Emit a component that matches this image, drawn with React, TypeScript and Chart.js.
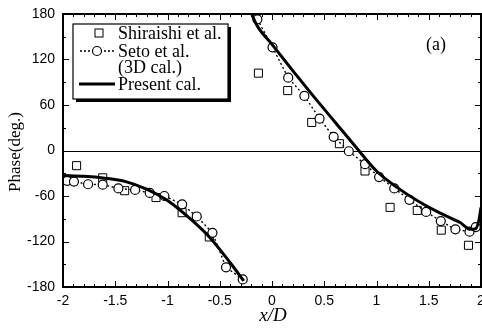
import { useEffect, useRef } from "react";
import { Chart, registerables } from "chart.js";

Chart.register(...registerables);

// Shiraishi et al. (measured)
const shiraishiLeftX = [-1.87, -1.62, -1.41, -1.11, -0.86, -0.6];
const shiraishiLeftY = [-20, -36, -53, -62, -82, -114];
const shiraishiRightX = [-0.13, 0.15, 0.38, 0.645, 0.89, 1.13, 1.39, 1.62, 1.88];
const shiraishiRightY = [102, 79, 37, 9, -27, -75, -79, -105, -125];

// Seto et al. (3D cal.)
const setoLeftX = [-1.96, -1.895, -1.76, -1.62, -1.47, -1.31, -1.17, -1.03, -0.86, -0.72, -0.57, -0.44, -0.28];
const setoLeftY = [-40, -41, -44.5, -45, -50, -52, -56, -60, -71, -87, -108.5, -154, -170];
const setoRightX = [-0.14, 0.005, 0.155, 0.31, 0.455, 0.59, 0.735, 0.89, 1.025, 1.17, 1.315, 1.475, 1.615, 1.755, 1.89, 1.95];
const setoRightY = [173, 136, 96, 72, 42, 18, -1, -18, -35, -50, -65, -81, -93, -104, -107, -101];

// Present calculation
const presentLeftX = [-2, -1.8, -1.6, -1.4, -1.2, -1.0, -0.8, -0.6, -0.4, -0.27];
const presentLeftY = [-33, -34, -36.5, -41, -51, -66, -88, -114, -148, -172];
const presentRightX = [-0.2, -0.185, -0.14, 0, 0.2, 0.4, 0.6, 0.8, 1.0, 1.2, 1.4, 1.6, 1.8, 1.9, 1.95, 1.98, 2.0];
const presentRightY = [183, 177, 164, 140, 105, 71, 38, 5, -27, -49, -67, -82, -95, -104, -103, -92, -75];

const xMin = -2;
const xMax = 2;
const yMin = -180;
const yMax = 180;
const xMajorStep = 0.5;
const xMinorStep = 0.1;
const yMajorStep = 60;
const yMinorStep = 30;

const legendLabels = ["Shiraishi et al.", "Seto et al.", "(3D cal.)", "Present cal."];
const panelLabel = "(a)";
const xTitle = "x/D";
const yTitle = "Phase(deg.)";

const toPoints = (xs: number[], ys: number[]) => xs.map((x, i) => ({ x, y: ys[i] }));

const SERIF = "'Liberation Serif', 'Times New Roman', serif";
const SANS = "'Liberation Sans', Arial, sans-serif";

const decorPlugin = {
  id: "decor",
  beforeDraw(chart: any) {
    const { ctx, width, height } = chart;
    ctx.save();
    ctx.fillStyle = "#fff";
    ctx.fillRect(0, 0, width, height);
    ctx.restore();
  },
  beforeDatasetsDraw(chart: any) {
    const { ctx, chartArea } = chart;
    const y0 = chart.scales.y.getPixelForValue(0);
    ctx.save();
    ctx.strokeStyle = "#000";
    ctx.lineWidth = 1;
    ctx.beginPath();
    ctx.moveTo(chartArea.left, Math.round(y0) + 0.5);
    ctx.lineTo(chartArea.right, Math.round(y0) + 0.5);
    ctx.stroke();
    ctx.restore();
  },
  afterDatasetsDraw(chart: any) {
    const { ctx, chartArea } = chart;
    const { left, right, top, bottom } = chartArea;
    const xs = chart.scales.x;
    const ys = chart.scales.y;
    ctx.save();
    ctx.strokeStyle = "#000";
    ctx.fillStyle = "#000";

    // inward ticks on all four sides
    ctx.lineWidth = 1;
    ctx.beginPath();
    const nx = Math.round((xMax - xMin) / xMinorStep);
    for (let i = 0; i <= nx; i++) {
      const v = xMin + i * xMinorStep;
      const major = Math.abs(v / xMajorStep - Math.round(v / xMajorStep)) < 1e-6;
      const len = major ? 6 : 3;
      const px = Math.round(xs.getPixelForValue(v)) + 0.5;
      ctx.moveTo(px, bottom);
      ctx.lineTo(px, bottom - len);
      ctx.moveTo(px, top);
      ctx.lineTo(px, top + len);
    }
    const ny = Math.round((yMax - yMin) / yMinorStep);
    for (let i = 0; i <= ny; i++) {
      const v = yMin + i * yMinorStep;
      const major = v % yMajorStep === 0;
      const len = major ? 6 : 3;
      const py = Math.round(ys.getPixelForValue(v)) + 0.5;
      ctx.moveTo(left, py);
      ctx.lineTo(left + len, py);
      ctx.moveTo(right, py);
      ctx.lineTo(right - len, py);
    }
    ctx.stroke();

    // frame
    ctx.lineWidth = 2;
    ctx.strokeRect(left, top, right - left, bottom - top);

    // legend box with drop shadow
    const bx = 73, by = 24, bw = 155, bh = 75;
    ctx.fillRect(bx + 3, by + 3, bw, bh);
    ctx.fillStyle = "#fff";
    ctx.fillRect(bx, by, bw, bh);
    ctx.lineWidth = 1.2;
    ctx.strokeRect(bx, by, bw, bh);

    // legend samples
    ctx.lineWidth = 1;
    ctx.strokeRect(95, 29, 8, 8);

    ctx.setLineDash([2, 2]);
    ctx.lineWidth = 1.4;
    ctx.beginPath();
    ctx.moveTo(80, 51);
    ctx.lineTo(115, 51);
    ctx.stroke();
    ctx.setLineDash([]);
    ctx.beginPath();
    ctx.arc(97, 51, 4.5, 0, Math.PI * 2);
    ctx.fillStyle = "#fff";
    ctx.fill();
    ctx.lineWidth = 1.2;
    ctx.stroke();

    ctx.lineWidth = 3;
    ctx.beginPath();
    ctx.moveTo(79, 84);
    ctx.lineTo(115, 84);
    ctx.stroke();

    // legend text
    ctx.fillStyle = "#000";
    ctx.font = `18px ${SERIF}`;
    ctx.textAlign = "left";
    ctx.textBaseline = "middle";
    ctx.fillText(legendLabels[0], 118, 34);
    ctx.fillText(legendLabels[1], 118, 52);
    ctx.fillText(legendLabels[2], 118, 68);
    ctx.fillText(legendLabels[3], 118, 85);

    // panel label
    ctx.font = `18px ${SERIF}`;
    ctx.textAlign = "center";
    ctx.fillText(panelLabel, 436, 45);

    // axis titles
    ctx.font = `italic 19px ${SERIF}`;
    ctx.textBaseline = "middle";
    ctx.fillText(xTitle, 273, 316);

    ctx.translate(16, 152);
    ctx.rotate(-Math.PI / 2);
    ctx.font = `17px ${SERIF}`;
    ctx.fillText(yTitle, 0, 0);
    ctx.restore();
  },
};

const clearPadding = (s: any) => {
  s.paddingLeft = 0;
  s.paddingRight = 0;
  s.paddingTop = 0;
  s.paddingBottom = 0;
};

export default function App() {
  const canvasRef = useRef<HTMLCanvasElement | null>(null);

  useEffect(() => {
    const canvas = canvasRef.current;
    if (!canvas) return;
    const chart = new Chart(canvas, {
      type: "scatter",
      data: {
        datasets: [
          {
            label: "Present cal.",
            data: toPoints(presentLeftX, presentLeftY),
            showLine: true,
            borderColor: "#000",
            borderWidth: 3,
            pointRadius: 0,
            cubicInterpolationMode: "monotone",
            order: 0,
          },
          {
            label: "Present cal.",
            data: toPoints(presentRightX, presentRightY),
            showLine: true,
            borderColor: "#000",
            borderWidth: 3,
            pointRadius: 0,
            cubicInterpolationMode: "monotone",
            order: 0,
          },
          {
            label: "Seto et al.",
            data: toPoints(setoLeftX, setoLeftY),
            showLine: true,
            borderColor: "#000",
            borderWidth: 1.4,
            borderDash: [2, 2.5],
            pointStyle: "circle",
            pointRadius: 4.5,
            pointBorderWidth: 1.2,
            pointBorderColor: "#000",
            pointBackgroundColor: "#fff",
            order: 1,
          },
          {
            label: "Seto et al.",
            data: toPoints(setoRightX, setoRightY),
            showLine: true,
            borderColor: "#000",
            borderWidth: 1.4,
            borderDash: [2, 2.5],
            pointStyle: "circle",
            pointRadius: 4.5,
            pointBorderWidth: 1.2,
            pointBorderColor: "#000",
            pointBackgroundColor: "#fff",
            order: 1,
          },
          {
            label: "Shiraishi et al.",
            data: toPoints(shiraishiLeftX.concat(shiraishiRightX), shiraishiLeftY.concat(shiraishiRightY)),
            showLine: false,
            pointStyle: "rect",
            pointRadius: 5.7,
            pointBorderWidth: 1,
            pointBorderColor: "#000",
            pointBackgroundColor: "rgba(255,255,255,0)",
            order: 2,
          },
        ],
      },
      options: {
        responsive: false,
        animation: false,
        devicePixelRatio: 1,
        layout: {
          autoPadding: false,
          padding: { top: 14, right: 1, left: 0, bottom: 0 },
        },
        plugins: {
          legend: { display: false },
          tooltip: { enabled: false },
        },
        scales: {
          x: {
            type: "linear",
            min: xMin,
            max: xMax,
            grid: { display: false, drawTicks: false },
            border: { display: false },
            ticks: {
              stepSize: xMajorStep,
              padding: 6,
              color: "#000",
              maxRotation: 0,
              autoSkip: false,
              font: { family: SANS, size: 14 },
              callback: (v: any) => String(Math.round(Number(v) * 10) / 10),
            },
            afterFit: (s: any) => {
              s.height = 41;
              clearPadding(s);
            },
          },
          y: {
            type: "linear",
            min: yMin,
            max: yMax,
            grid: { display: false, drawTicks: false },
            border: { display: false },
            ticks: {
              stepSize: yMajorStep,
              padding: 8,
              color: "#000",
              autoSkip: false,
              font: { family: SANS, size: 14 },
              callback: (v: any) => String(v),
            },
            afterFit: (s: any) => {
              s.width = 63;
              clearPadding(s);
            },
          },
        },
      } as any,
      plugins: [decorPlugin],
    });
    return () => chart.destroy();
  }, []);

  return (
    <div style={{ position: "fixed", left: 0, top: 0, width: 482, height: 328, background: "#fff" }}>
      <canvas ref={canvasRef} width={482} height={328} style={{ display: "block" }} />
    </div>
  );
}
